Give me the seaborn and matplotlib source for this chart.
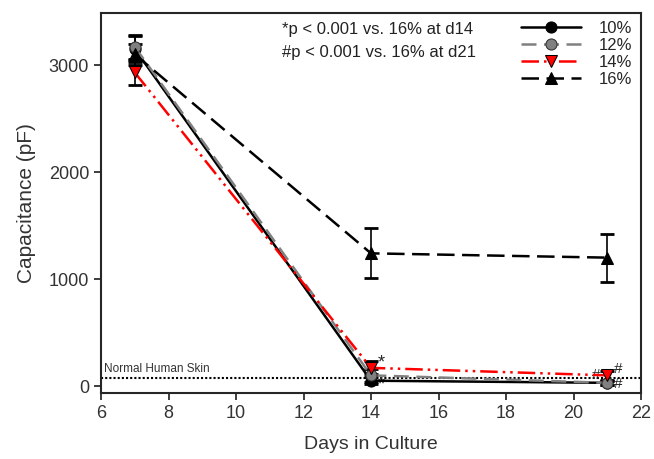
import matplotlib
matplotlib.use("Agg")
import matplotlib.pyplot as plt
import seaborn as sns
import pandas as pd
import numpy as np

days = [7, 14, 21]
labels = ["10%", "12%", "14%", "16%"]
cap_10 = [3150, 50, 30]
cap_12 = [3170, 100, 30]
cap_14 = [2930, 170, 100]
cap_16 = [3100, 1240, 1200]
err_10 = [120, 30, 20]
err_12 = [110, 60, 20]
err_14 = [120, 60, 40]
err_16 = [100, 235, 225]
normal_skin = 75

sns.set_theme(style="ticks")
plt.rcParams['font.family'] = ['Liberation Sans', 'DejaVu Sans']

rows = []
for lab, vals, errs in zip(labels, [cap_10, cap_12, cap_14, cap_16], [err_10, err_12, err_14, err_16]):
    for d, v, e in zip(days, vals, errs):
        rows.append(dict(day=d, cap=v, err=e, group=lab))
df = pd.DataFrame(rows)

fig = plt.figure(figsize=(6.54, 4.59), dpi=100)
ax = fig.add_axes([101/654, 1-393/459, 540/654, 380/459])

styles = {
    "10%": dict(color="black", ls="-", marker="o", mfc="black", mec="black"),
    "12%": dict(color="#808080", ls=(0, (6, 3)), marker="o", mfc="#808080", mec="#303030"),
    "14%": dict(color="red", ls=(0, (7, 2, 1, 2, 1, 2)), marker="v", mfc="red", mec="black"),
    "16%": dict(color="black", ls=(0, (7, 3)), marker="^", mfc="black", mec="black"),
}

ax.axhline(normal_skin, color="black", ls=(0, (1, 1)), lw=1.5, zorder=1)
ax.text(6.1, normal_skin + 25, "Normal Human Skin", fontsize=8.5, va="bottom", ha="left", color="#333333")

for lab in labels:
    sub = df[df.group == lab]
    st = styles[lab]
    ax.errorbar(sub.day, sub.cap, yerr=sub.err, fmt="none", ecolor="black", elinewidth=1.2, capsize=5, capthick=2, zorder=3)
    sns.lineplot(data=sub, x="day", y="cap", ax=ax, color=st["color"], linestyle=st["ls"], lw=1.8,
                 marker=st["marker"], markersize=8, markerfacecolor=st["mfc"], markeredgecolor=st["mec"],
                 label=lab, zorder=4, errorbar=None)

# significance marks
ax.text(14.2, 215, "*", fontsize=13, ha="left", va="center")
ax.text(14.2, 10, "*", fontsize=13, ha="left", va="center")
ax.text(20.55, 105, "#", fontsize=11, ha="left", va="center")
ax.text(21.2, 160, "#", fontsize=11, ha="left", va="center")
ax.text(21.2, 20, "#", fontsize=11, ha="left", va="center")

ax.text(0.335, 0.975, "*p < 0.001 vs. 16% at d14", transform=ax.transAxes, fontsize=12, va="top", color="#222222")
ax.text(0.335, 0.915, "#p < 0.001 vs. 16% at d21", transform=ax.transAxes, fontsize=12, va="top", color="#222222")

ax.set_xlim(6, 22)
ax.set_ylim(-65, 3486)
ax.set_xticks([6, 8, 10, 12, 14, 16, 18, 20, 22])
ax.set_yticks([0, 1000, 2000, 3000])
ax.tick_params(labelsize=13, direction="out", length=5, labelcolor="#333333")
ax.set_xlabel("Days in Culture", fontsize=14, color="#333333", labelpad=10)
ax.set_ylabel("Capacitance (pF)", fontsize=15, color="#333333", labelpad=9)
for s in ax.spines.values():
    s.set_linewidth(1.5)
    s.set_visible(True)

leg = ax.legend(loc="upper right", frameon=False, fontsize=12, handlelength=3.6, markerfirst=True,
                borderaxespad=0.1, labelspacing=0.12, handletextpad=1.1)
leg.set_title(None)

fig.savefig("out.png", dpi=100)
